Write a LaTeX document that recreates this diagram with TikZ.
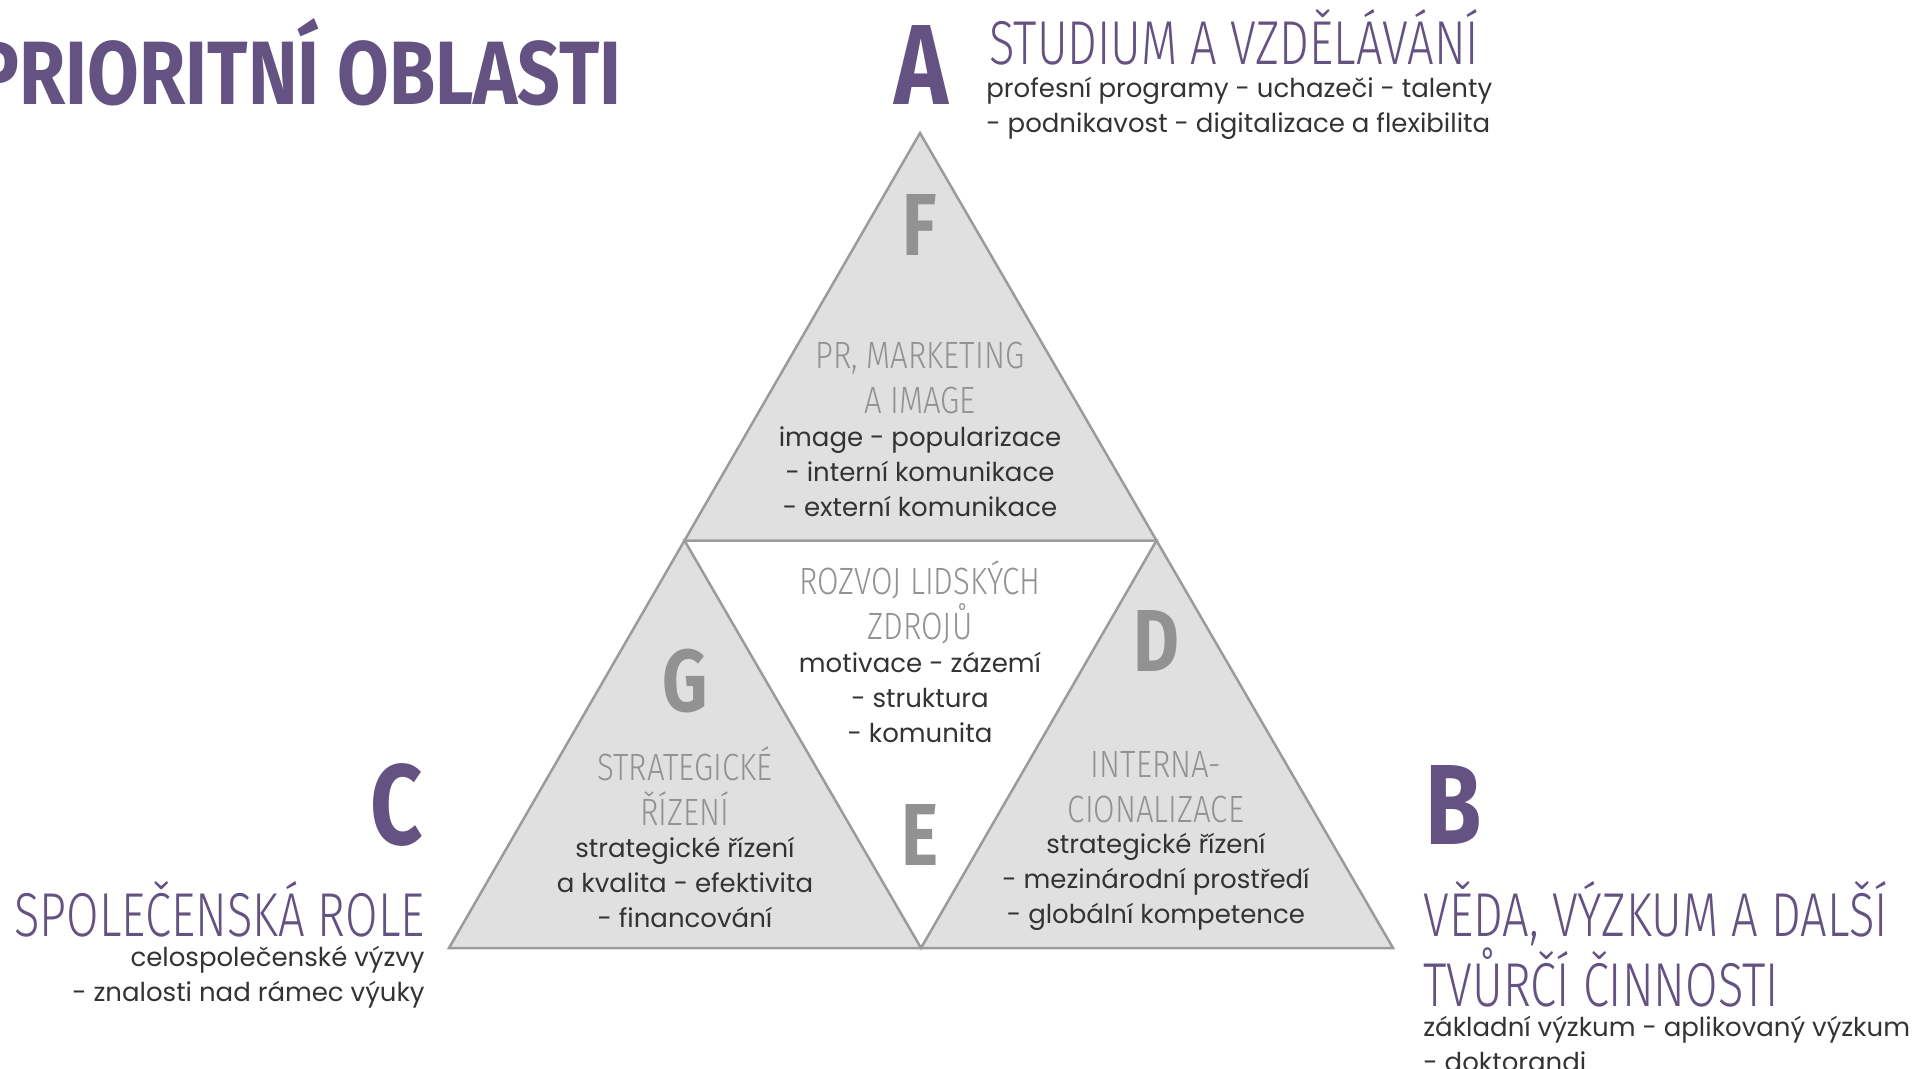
\documentclass[tikz,border=0pt]{standalone}
\usepackage{fontspec}
\setmainfont{Poppins}
\newfontfamily\headfont[FakeStretch=0.76]{Fira Sans Light}
\newfontfamily\grayfont[FakeStretch=0.82]{Fira Sans Light}
\newfontfamily\heavyfont[FakeStretch=0.8]{Fira Sans}

\definecolor{fialova}{HTML}{635282}
\definecolor{sedapln}{HTML}{E0E0E0}
\definecolor{sedacara}{HTML}{9B9B9B}
\definecolor{sedapis}{HTML}{929292}
\definecolor{tmavy}{HTML}{333333}

\tikzset{
  cara/.style={draw=sedacara, line width=1.25pt, line join=miter},
  pismeno/.style={font=\heavyfont\bfseries\fontsize{44}{44}\selectfont, text=sedapis, inner sep=0pt, anchor=base},
  velkepismeno/.style={font=\heavyfont\bfseries\fontsize{57}{57}\selectfont, text=fialova, inner sep=0pt},
  nadpis/.style={font=\grayfont\fontsize{19}{22.5}\selectfont, text=sedapis, align=center, inner sep=0pt},
  popis/.style={font=\fontsize{13}{17.5}\selectfont, text=tmavy, align=center, inner sep=0pt},
  oblast/.style={font=\headfont\fontsize{31}{34}\selectfont, text=fialova, inner sep=0pt},
}

\begin{document}
\begin{tikzpicture}[x=0.5pt, y=-0.5pt]
  \useasboundingbox (0,0) rectangle (1932,1069);

  % trojuhelnik
  \coordinate (vrchol) at (920,133);
  \coordinate (levy) at (449,948);
  \coordinate (pravy) at (1393,948);
  \coordinate (stredL) at (684.5,540.5);
  \coordinate (stredP) at (1156.5,540.5);
  \coordinate (stredD) at (921,948);
  \fill[sedapln] (vrchol) -- (levy) -- (pravy) -- cycle;
  \fill[white] (stredL) -- (stredP) -- (stredD) -- cycle;
  \draw[cara] (vrchol) -- (levy) -- (pravy) -- cycle;
  \draw[cara] (stredL) -- (stredP) -- (stredD) -- cycle;

  % nadpis
  \node[font=\heavyfont\bfseries\fontsize{45}{45}\selectfont, text=fialova, inner sep=0pt, anchor=base east, xscale=1.04] (titul) at (622,105) {PRIORITNÍ OBLASTI};

  % oblast A
  \node[velkepismeno, anchor=base] (A) at (921,105) {A};
  \node[oblast, anchor=base west] (oblastA) at (989,65) {STUDIUM A VZDĚLÁVÁNÍ};
  \node[popis, align=left, anchor=west] (popisA) at (986,108) {profesní programy - uchazeči - talenty\\ - podnikavost - digitalizace a flexibilita};

  % F
  \node[pismeno] (F) at (920,256) {F};
  \node[nadpis] (nadpisF) at (920,377.5) {PR, MARKETING\\A IMAGE};
  \node[popis] (popisF) at (920,472) {image - popularizace\\- interní komunikace\\- externí komunikace};

  % E
  \node[nadpis] (nadpisE) at (920,602.5) {ROZVOJ LIDSKÝCH\\ZDROJŮ};
  \node[popis] (popisE) at (920,697) {motivace - zázemí\\- struktura\\- komunita};
  \node[pismeno] (E) at (920,865) {E};

  % G
  \node[pismeno] (G) at (685,711) {G};
  \node[nadpis] (nadpisG) at (685,786) {STRATEGICKÉ\\ŘÍZENÍ};
  \node[popis] (popisG) at (685,882) {strategické řízení\\a kvalita - efektivita\\- financování};

  % D
  \node[pismeno] (D) at (1156,671) {D};
  \node[nadpis] (nadpisD) at (1156,787) {INTERNA-\\CIONALIZACE};
  \node[popis] (popisD) at (1156,882) {strategické řízení\\- mezinárodní prostředí\\- globální kompetence};

  % oblast C
  \node[velkepismeno, anchor=base east] (C) at (423,844) {C};
  \node[oblast, anchor=base east] (oblastC) at (425,936) {SPOLEČENSKÁ ROLE};
  \node[popis, align=right, anchor=east] (popisC) at (425,977) {celospolečenské výzvy\\- znalosti nad rámec výuky};

  % oblast B
  \node[velkepismeno, anchor=base west] (B) at (1425,844) {B};
  \node[oblast, align=left, anchor=west] (oblastB) at (1423,944) {VĚDA, VÝZKUM A DALŠÍ\\TVŮRČÍ ČINNOSTI};
  \node[popis, align=left, anchor=west] (popisB) at (1423,1044) {základní výzkum - aplikovaný výzkum\\ - doktorandi};
\end{tikzpicture}
\end{document}
